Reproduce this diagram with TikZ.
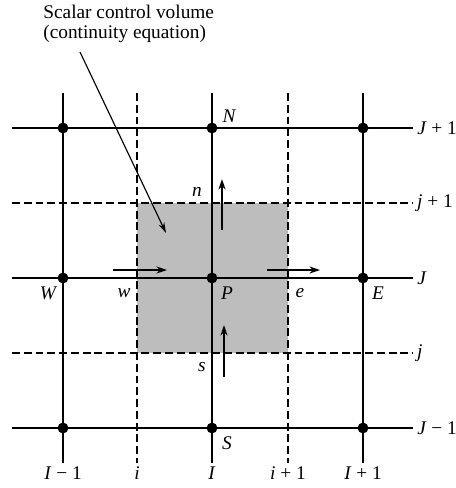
\documentclass[tikz,border=0pt]{standalone}
\usepackage{fontspec}
\setmainfont{Liberation Serif}
\usetikzlibrary{arrows.meta}

\begin{document}
\begin{tikzpicture}[
    x=0.02cm, y=-0.02cm,
    every node/.style={font=\fontsize{11}{11}\selectfont},
    gridln/.style={line width=0.9pt, black},
    stagln/.style={line width=0.65pt, black, dash pattern=on 4.5pt off 2.2pt},
    nodept/.style={circle, fill=black, inner sep=0pt, minimum size=6.2pt},
    cv/.style={fill=black!26},
    flux/.style={-{Stealth[length=6pt,width=4pt]}, line width=0.75pt},
    pointer/.style={-{Stealth[length=6pt,width=3.5pt]}, line width=0.65pt},
    lbl/.style={font=\fontsize{11}{11}\selectfont\itshape, inner sep=1pt},
    rlbl/.style={anchor=west, inner sep=2pt},
    blbl/.style={anchor=north, inner sep=1.5pt}
]

\useasboundingbox (0,0) rectangle (456,488);

%% ── Scalar control volume ───────────────────────────────────────────
\fill[cv] (137,203) rectangle (288,353);

%% ── Main grid lines (scalar nodes) ─────────────────────────────────
\draw[gridln] (63,93)  -- (63,463)  node[blbl] (lIm) {\textit{I} − 1};
\draw[gridln] (212,93) -- (212,463) node[blbl] (lI)  {\textit{I}};
\draw[gridln] (363,93) -- (363,463) node[blbl] (lIp) {\textit{I} + 1};
\draw[gridln] (12,128) -- (413,128) node[rlbl] (lJp) {\textit{J} + 1};
\draw[gridln] (12,278) -- (413,278) node[rlbl] (lJ)  {\textit{J}};
\draw[gridln] (12,428) -- (413,428) node[rlbl] (lJm) {\textit{J} − 1};

%% ── Staggered grid lines (faces) ───────────────────────────────────
\draw[stagln] (137,93) -- (137,463) node[blbl] (li)  {\textit{i}};
\draw[stagln] (288,93) -- (288,463) node[blbl] (lip) {\textit{i} + 1};
\draw[stagln] (12,203) -- (413,203) node[rlbl] (ljp) {\textit{j} + 1};
\draw[stagln] (12,353) -- (413,353) node[rlbl] (lj)  {\textit{j}};

%% ── Scalar nodes ────────────────────────────────────────────────────
\node[nodept] (NW) at (63,128)  {};
\node[nodept] (N)  at (212,128) {};
\node[nodept] (NE) at (363,128) {};
\node[nodept] (W)  at (63,278)  {};
\node[nodept] (P)  at (212,278) {};
\node[nodept] (E)  at (363,278) {};
\node[nodept] (SW) at (63,428)  {};
\node[nodept] (S)  at (212,428) {};
\node[nodept] (SE) at (363,428) {};

%% ── Node and face labels ────────────────────────────────────────────
\node[lbl] (tN) at (229,116) {N};
\node[lbl] (tn) at (197,192) {n};
\node[lbl] (tW) at (48,293)  {W};
\node[lbl] (tw) at (124,293) {w};
\node[lbl] (tP) at (227,293) {P};
\node[lbl] (te) at (300,293) {e};
\node[lbl] (tE) at (378,293) {E};
\node[lbl] (ts) at (202,367) {s};
\node[lbl] (tS) at (227,443) {S};

%% ── Face velocities ─────────────────────────────────────────────────
\coordinate (uw0) at (113,270);
\coordinate (uw1) at (167,270);
\coordinate (ue0) at (267,270);
\coordinate (ue1) at (320,270);
\coordinate (vn0) at (222,230);
\coordinate (vn1) at (222,179);
\coordinate (vs0) at (224,377);
\coordinate (vs1) at (224,325);

\draw[flux] (uw0) -- (uw1);
\draw[flux] (ue0) -- (ue1);
\draw[flux] (vn0) -- (vn1);
\draw[flux] (vs0) -- (vs1);

%% ── Annotation ──────────────────────────────────────────────────────
\node[anchor=north west, align=left, inner sep=0pt] (cvnote) at (43,5)
    {Scalar control volume\\(continuity equation)};
\coordinate (cvtail) at (80,52);
\coordinate (cvtip)  at (166,233);
\draw[pointer] (cvtail) -- (cvtip);

\end{tikzpicture}
\end{document}
